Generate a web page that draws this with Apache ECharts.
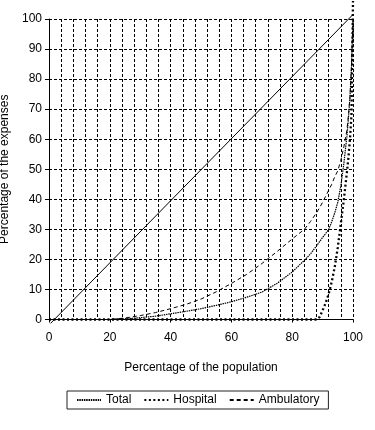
<!DOCTYPE html>
<html>
<head>
<meta charset="utf-8">
<script src="https://cdn.jsdelivr.net/npm/echarts@6/dist/echarts.min.js"></script>
<style>
html,body{margin:0;padding:0;background:#fff;}
#chart{width:375px;height:430px;}
</style>
</head>
<body>
<div id="chart"></div>
<script>
// Percentage of the population (x grid)
var popShare = [0, 20, 25, 30, 35, 40, 45, 50, 55, 60, 65, 70, 75, 80, 84, 86, 88, 89, 90, 91, 92, 93, 94, 95, 96, 97, 98, 98.5, 99, 99.5, 100];
// Percentage of the expenses
var totalShare = [0, 0, 0.2, 0.6, 1.1, 1.9, 2.7, 3.6, 4.7, 5.9, 7.4, 9.1, 12, 15.8, 19.7, 21.8, 24.5, 25.9, 27.3, 28.6, 30, 32.5, 35.5, 39, 44.5, 52, 61, 67, 74, 84, 100];
var hospitalShare = [0, 0, 0, 0, 0, 0, 0, 0, 0, 0, 0, 0, 0, 0, 0, 0, 0, 0.8, 3, 5.5, 8.5, 12.5, 17.5, 24, 32, 40, 49, 54, 60, 68, 106];
var ambulatoryShare = [0, 0, 0.5, 1.3, 2.3, 3.6, 5, 6.8, 9.2, 12, 15, 18.6, 22.6, 26.8, 30, 32.6, 35.5, 37.2, 39, 41, 43, 45, 47.5, 49.5, 53, 57.5, 63, 68, 74, 84, 100];
// Equality line end points
var equalityX = [0.5, 100];
var equalityY = [-1.3, 101.5];

var seriesNames = ['Total', 'Hospital', 'Ambulatory'];
var xTitle = 'Percentage of the population';
var yTitle = 'Percentage of the expenses';

function pairs(xs, ys) {
  return xs.map(function (x, i) { return [x, ys[i]]; });
}

var chart = echarts.init(document.getElementById('chart'), null, {renderer: 'canvas'});
var font = 'Liberation Sans, Arial, sans-serif';
var gridLine = {show: true, lineStyle: {color: '#000', width: 1, type: [3, 2]}};

chart.setOption({
  animation: false,
  backgroundColor: '#fff',
  textStyle: {fontFamily: font, color: '#000'},
  grid: {left: 49, right: 22, top: 19, bottom: 110.5, containLabel: false, outerBoundsMode: 'none'},
  xAxis: {
    type: 'value', min: 0, max: 100, interval: 20,
    name: xTitle, nameLocation: 'middle', nameGap: 42,
    nameTextStyle: {fontSize: 12, color: '#000', fontFamily: font},
    axisLine: {show: true, onZero: false, lineStyle: {color: '#000', width: 1}},
    axisTick: {show: true, length: 3, lineStyle: {color: '#000'}},
    axisLabel: {fontSize: 12, color: '#000', margin: 12, fontFamily: font},
    splitLine: gridLine,
    minorTick: {show: false, splitNumber: 5},
    minorSplitLine: {show: true, lineStyle: {color: '#000', width: 1, type: [3, 2]}}
  },
  yAxis: {
    type: 'value', min: 0, max: 100, interval: 10,
    name: yTitle, nameLocation: 'middle', nameGap: 31,
    nameTextStyle: {fontSize: 12, color: '#000', fontFamily: font},
    axisLine: {show: true, onZero: false, lineStyle: {color: '#000', width: 1}},
    axisTick: {show: true, length: 4, lineStyle: {color: '#000'}},
    axisLabel: {fontSize: 12, color: '#000', margin: 7, fontFamily: font},
    splitLine: gridLine
  },
  legend: {
    data: seriesNames,
    left: 67, top: 391,
    orient: 'horizontal',
    padding: [3, 9, 3, 9],
    itemWidth: 24, itemHeight: 8, itemGap: 12,
    borderColor: '#222', borderWidth: 1,
    itemStyle: {opacity: 0, borderWidth: 0},
    textStyle: {fontSize: 12, color: '#000', fontFamily: font}
  },
  series: [
    {
      name: 'Equality', type: 'line', symbol: 'none', clip: false, silent: true,
      data: pairs(equalityX, equalityY),
      lineStyle: {color: '#000', width: 1, type: 'solid'}, z: 3
    },
    {
      name: 'Total', type: 'line', symbol: 'none', clip: false,
      data: pairs(popShare, totalShare),
      lineStyle: {color: '#000', width: 1.2, type: [1.5, 0.8]},
      itemStyle: {color: '#000'}, z: 4
    },
    {
      name: 'Hospital', type: 'line', symbol: 'none', clip: false,
      data: pairs(popShare, hospitalShare),
      lineStyle: {color: '#000', width: 2.3, type: [2, 2.5]},
      itemStyle: {color: '#000'}, z: 5
    },
    {
      name: 'Ambulatory', type: 'line', symbol: 'none', clip: false,
      data: pairs(popShare, ambulatoryShare),
      lineStyle: {color: '#000', width: 1, type: [4, 3]},
      itemStyle: {color: '#000'}, z: 4
    }
  ]
});
</script>
</body>
</html>
